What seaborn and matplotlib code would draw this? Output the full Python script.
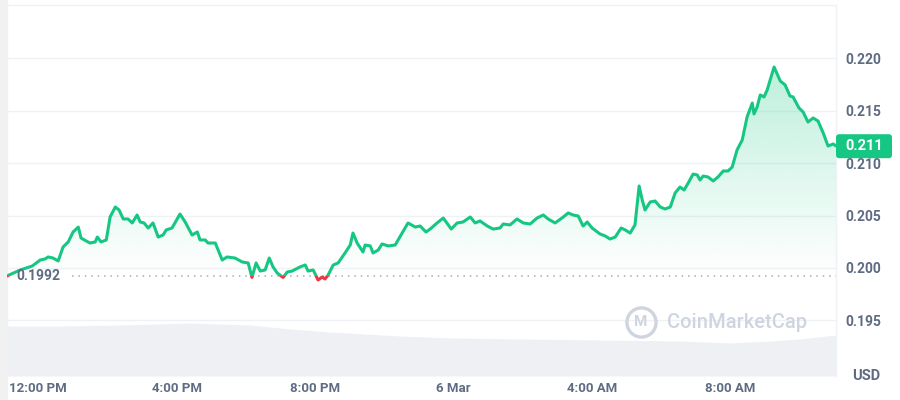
import numpy as np
import pandas as pd
import matplotlib
matplotlib.use("Agg")
import matplotlib.pyplot as plt
from matplotlib.patches import Rectangle, FancyBboxPatch
from matplotlib.path import Path
from matplotlib.colors import to_rgb
import seaborn as sns

# ------------------------------------------------------------
# Datos (horas desde 5 Mar 00:00, precio en USD)
# ------------------------------------------------------------
hours = [
    11.10, 11.48, 11.83, 12.06, 12.20, 12.29, 12.43, 12.58, 12.72, 12.87,
    13.01, 13.16, 13.24, 13.39, 13.50, 13.65, 13.71, 13.82, 13.97, 14.08,
    14.23, 14.34, 14.46, 14.60, 14.72, 14.86, 14.95, 15.06, 15.18, 15.32,
    15.47, 15.61, 15.70, 15.87, 16.10, 16.25, 16.45, 16.60, 16.68, 16.83,
    16.91, 17.12, 17.32, 17.46, 17.69, 17.90, 18.07, 18.18, 18.30, 18.42,
    18.56, 18.68, 18.79, 18.91, 19.08, 19.20, 19.34, 19.57, 19.72, 19.80,
    19.95, 20.09, 20.21, 20.29, 20.38, 20.53, 20.67, 20.87, 21.02, 21.10,
    21.22, 21.39, 21.45, 21.60, 21.68, 21.83, 21.94, 22.12, 22.32, 22.52,
    22.69, 22.90, 23.04, 23.21, 23.33, 23.53, 23.71, 23.94, 24.11, 24.28,
    24.49, 24.63, 24.77, 24.98, 25.15, 25.35, 25.44, 25.64, 25.84, 26.02,
    26.22, 26.42, 26.60, 26.74, 26.94, 27.14, 27.32, 27.46, 27.61, 27.75,
    27.87, 28.01, 28.24, 28.39, 28.53, 28.68, 28.85, 28.97, 29.11, 29.25,
    29.37, 29.46, 29.54, 29.69, 29.83, 29.98, 30.12, 30.27, 30.41, 30.55,
    30.67, 30.79, 30.93, 31.05, 31.13, 31.22, 31.36, 31.51, 31.65, 31.80,
    31.94, 32.06, 32.20, 32.35, 32.49, 32.64, 32.69, 32.78, 32.87, 32.98,
    33.07, 33.27, 33.45, 33.59, 33.73, 33.82, 33.99, 34.11, 34.25, 34.40,
    34.54, 34.69, 34.83, 34.98, 35.06,
]
price = [
    0.19924, 0.19981, 0.20019, 0.20076, 0.20086, 0.20105, 0.20095, 0.20067, 0.20200, 0.20248,
    0.20343, 0.20390, 0.20286, 0.20257, 0.20238, 0.20248, 0.20295, 0.20248, 0.20267, 0.20486,
    0.20581, 0.20552, 0.20467, 0.20467, 0.20429, 0.20505, 0.20438, 0.20429, 0.20381, 0.20429,
    0.20295, 0.20314, 0.20362, 0.20381, 0.20514, 0.20438, 0.20314, 0.20343, 0.20267, 0.20267,
    0.20238, 0.20238, 0.20076, 0.20105, 0.20095, 0.20057, 0.20048, 0.19910, 0.20048, 0.19971,
    0.19981, 0.20095, 0.20010, 0.19952, 0.19910, 0.19962, 0.19971, 0.20010, 0.20029, 0.19971,
    0.19981, 0.19886, 0.19914, 0.19895, 0.19933, 0.20029, 0.20048, 0.20143, 0.20219, 0.20333,
    0.20238, 0.20152, 0.20219, 0.20210, 0.20143, 0.20171, 0.20229, 0.20210, 0.20219, 0.20333,
    0.20429, 0.20390, 0.20400, 0.20343, 0.20371, 0.20429, 0.20476, 0.20371, 0.20429, 0.20438,
    0.20486, 0.20429, 0.20448, 0.20400, 0.20371, 0.20381, 0.20419, 0.20410, 0.20467, 0.20429,
    0.20419, 0.20476, 0.20505, 0.20467, 0.20429, 0.20476, 0.20524, 0.20505, 0.20495, 0.20400,
    0.20438, 0.20381, 0.20324, 0.20305, 0.20276, 0.20295, 0.20381, 0.20362, 0.20333, 0.20410,
    0.20781, 0.20648, 0.20552, 0.20629, 0.20638, 0.20581, 0.20562, 0.20581, 0.20714, 0.20771,
    0.20743, 0.20810, 0.20895, 0.20886, 0.20838, 0.20876, 0.20867, 0.20829, 0.20867, 0.20924,
    0.20924, 0.20962, 0.21124, 0.21219, 0.21438, 0.21571, 0.21467, 0.21533, 0.21648, 0.21629,
    0.21695, 0.21914, 0.21781, 0.21743, 0.21638, 0.21629, 0.21524, 0.21486, 0.21390, 0.21429,
    0.21400, 0.21286, 0.21162, 0.21181, 0.21162,
]

# volumen relativo (unidades arbitrarias)
vol_hours = [11.10, 12.64, 14.37, 16.39, 18.13, 19.28, 20.44, 22.46,
             23.91, 25.93, 28.24, 30.55, 32.00, 33.16, 34.02, 35.06]
volume = [50, 50, 51, 53, 51, 47, 44, 40, 38, 37, 36, 35, 33, 35, 37, 41]

open_price = 0.1992
last_price = 0.211
price_ticks = [0.195, 0.200, 0.205, 0.210, 0.215, 0.220]
time_ticks = [12, 16, 20, 24, 28, 32]
time_labels = ["12:00 PM", "4:00 PM", "8:00 PM", "6 Mar", "4:00 AM", "8:00 AM"]

GREEN = "#16c784"
RED = "#ea3943"
GREY = "#5f6b82"
GRID = "#eff2f5"
MARK = "#cfd5e0"

sns.set_theme(style="white")
plt.rcParams["font.family"] = ["Roboto", "DejaVu Sans"]

df = pd.DataFrame({"hours": hours, "price": price})
vol = pd.DataFrame({"hours": vol_hours, "volume": volume})

XMIN, XMAX = 11.10, 35.06
YMIN, YMAX = 0.189714, 0.225048

fig = plt.figure(figsize=(9, 4), dpi=100)
fig.add_artist(Rectangle((0, 0), 7 / 900, 1, transform=fig.transFigure,
                         color="#f1f1f1", zorder=0))
rect = [7 / 900, 24 / 400, 829 / 900, 371 / 400]
ax_vol = fig.add_axes(rect)
ax = fig.add_axes(rect)
ax.set_facecolor("none")

# ---- volumen ----
ax_vol.fill_between(vol["hours"], vol["volume"], color="#eef0f3", lw=0)
ax_vol.set_xlim(XMIN, XMAX)
ax_vol.set_ylim(0, max(volume) * 7)
ax_vol.axis("off")

# ---- relleno con degradado ----
poly = ax.fill_between(df["hours"], df["price"], open_price, color="none", lw=0)
clip = Path.make_compound_path(*poly.get_paths())
grad = np.zeros((256, 1, 4))
grad[..., :3] = to_rgb(GREEN)
grad[:, 0, 3] = np.linspace(0.0, 0.30, 256)
img = ax.imshow(grad, extent=[XMIN, XMAX, open_price, 0.2205], origin="lower",
                aspect="auto", zorder=1, interpolation="bilinear")
img.set_clip_path(clip, transform=ax.transData)

# ---- línea de precio (verde arriba, roja debajo de la apertura) ----
sns.lineplot(data=df, x="hours", y="price", color=GREEN, lw=2.2, ax=ax, zorder=3)
green_line = ax.lines[-1]
sns.lineplot(data=df, x="hours", y="price", color=RED, lw=2.2, ax=ax, zorder=3)
red_line = ax.lines[-1]
green_line.set_clip_path(Rectangle((XMIN, open_price), XMAX - XMIN, 1, transform=ax.transData))
red_line.set_clip_path(Rectangle((XMIN, open_price - 1), XMAX - XMIN, 1, transform=ax.transData))

# línea punteada del precio de apertura
ax.hlines(open_price, 12.98, XMAX, colors="#a6acbd", linestyles=(0, (1, 3.2)), lw=1.1, zorder=2)
ax.text(11.36, open_price, f"{open_price:.4f}", ha="left", va="center",
        fontsize=10, fontweight="bold", color=GREY, zorder=4)

# ---- ejes ----
ax.set_xlim(XMIN, XMAX)
ax.set_ylim(YMIN, YMAX)
ax.set_xlabel("")
ax.set_ylabel("")
ax.yaxis.tick_right()
ax.set_yticks(price_ticks, [f"{v:.3f}" for v in price_ticks], fontweight="bold")
ax.set_xticks(time_ticks, time_labels, fontweight="bold")
ax.tick_params(axis="y", length=0, pad=6.5, labelsize=10, labelcolor=GREY)
ax.tick_params(axis="x", length=0, pad=4.5, labelsize=9.5, labelcolor=GREY)
ax.grid(axis="y", color=GRID, lw=1)
ax.grid(axis="x", visible=False)
for side in ["left", "bottom"]:
    ax.spines[side].set_visible(False)
for side in ["top", "right"]:
    ax.spines[side].set_color(GRID)
    ax.spines[side].set_linewidth(1)

ax.text(1.02, 0.0, "USD", transform=ax.transAxes, ha="left", va="center",
        fontsize=10.5, fontweight="bold", color=GREY)

# ---- etiqueta del precio actual ----
box_y = (0.2116 - YMIN) / (YMAX - YMIN)
bw, bh = 56 / 829, 24 / 371
ax.add_patch(FancyBboxPatch((1.0, box_y - bh / 2), bw, bh,
                            boxstyle="round,pad=0,rounding_size=0.004",
                            mutation_aspect=829 / 371, transform=ax.transAxes,
                            facecolor=GREEN, edgecolor="none", clip_on=False, zorder=5))
ax.text(1.0 + bw / 2, box_y, f"{last_price:.3f}", transform=ax.transAxes,
        ha="center", va="center", fontsize=10.5, fontweight="bold", color="white",
        clip_on=False, zorder=6)

# ---- marca de agua ----
ax.plot([(641 - 7) / 829], [(376 - 322) / 371], transform=ax.transAxes, marker="o",
        markersize=21, markerfacecolor="none", markeredgecolor=MARK,
        markeredgewidth=2.4, zorder=2)
ax.text((641 - 7) / 829, (376 - 322) / 371, "M", transform=ax.transAxes,
        ha="center", va="center", fontsize=11, fontweight="bold", color=MARK, zorder=2)
ax.text((667 - 7) / 829, (376 - 323) / 371, "CoinMarketCap", transform=ax.transAxes,
        ha="left", va="center", fontsize=14.5, fontweight="medium", color=MARK, zorder=2)

fig.savefig("out.png", dpi=100)
